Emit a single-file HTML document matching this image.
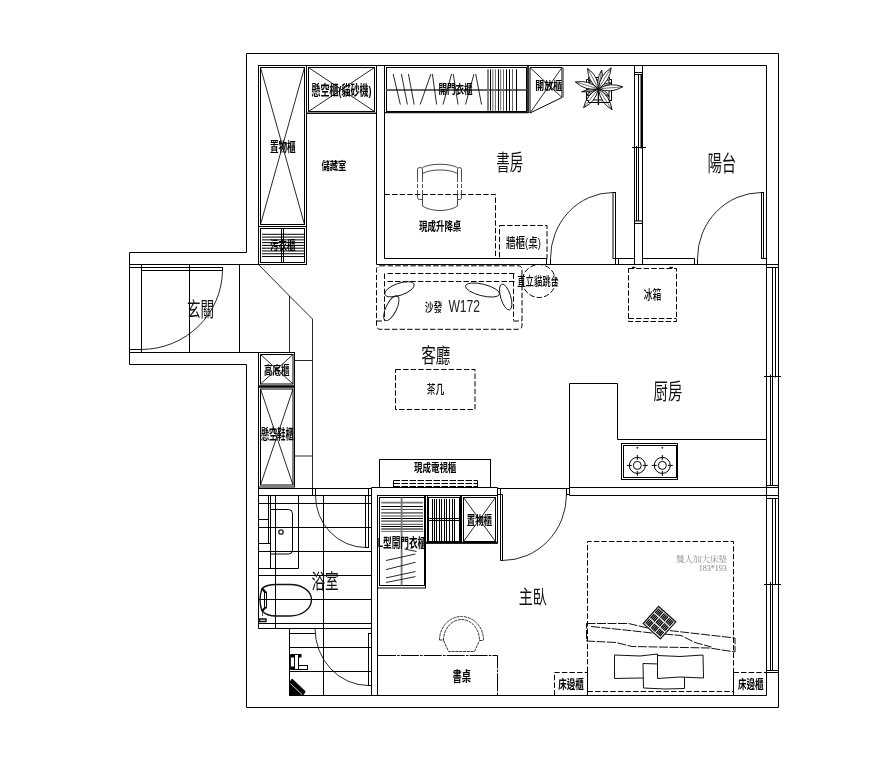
<!DOCTYPE html>
<html lang="zh-Hant"><head><meta charset="utf-8"><title>平面配置圖</title>
<style>
html,body{margin:0;padding:0;background:#fff;}
body{width:889px;height:762px;overflow:hidden;}
svg{display:block;will-change:transform;}
.k{stroke:#000;stroke-width:1;fill:none;}
.k15{stroke:#111;stroke-width:1.4;fill:none;}
.k2{stroke:#000;stroke-width:2;fill:none;}
.k3{stroke:#000;stroke-width:3;fill:none;}
.blk{stroke:#000;stroke-width:1;fill:#000;}
.t{stroke:#111;stroke-width:0.9;fill:none;}
.tw{stroke:#222;stroke-width:0.8;fill:#fff;}
.kw{stroke:#111;stroke-width:1;fill:#fff;}
.h{stroke:#000;stroke-width:1;fill:none;}
.hd{stroke:#444;stroke-width:1;fill:none;}
.wl{stroke:#fff;stroke-width:0.8;fill:none;}
.hg{stroke:#666;stroke-width:1;fill:none;}
.g2{stroke:#777;stroke-width:1.8;fill:none;}
.g2r{stroke:#666;stroke-width:2;fill:none;}
.g15{stroke:#888;stroke-width:1.5;fill:none;}
.d{stroke:#000;stroke-width:1;fill:none;stroke-dasharray:5.4 2.2;}
.d2{stroke:#000;stroke-width:1;fill:none;stroke-dasharray:6.5 1.5;}
.ch{stroke:#333;stroke-width:0.9;fill:none;}
.chd{stroke:#444;stroke-width:0.9;fill:none;stroke-dasharray:4 2;}
.d3{stroke:#222;stroke-width:0.8;fill:none;stroke-dasharray:4 2;}
.d3x{stroke:none;fill:none;}
.dd{stroke:#000;stroke-width:1;fill:none;stroke-dasharray:18 1.2 2.5 1.2;}
.dg{stroke:#333;stroke-width:1;fill:none;stroke-dasharray:3 0.8;}
.db{stroke:#111;stroke-width:1;fill:none;stroke-dasharray:9 1.5;}
.leaf{stroke:#000;stroke-width:0.9;fill:#fff;}
.vein{stroke:#111;stroke-width:0.6;fill:none;}
text{font-family:"Liberation Sans","Noto Sans CJK TC",sans-serif;fill:#000;}
.big{font-weight:400;fill:#111;}
.sm{font-weight:700;}
.md{font-weight:500;}
.lat{font-weight:400;fill:#222;}
.ser{font-family:"Liberation Serif","Noto Serif CJK TC",serif;fill:#888;font-weight:400;}
</style></head>
<body>
<svg width="889" height="762" viewBox="0 0 889 762" shape-rendering="geometricPrecision">
<rect x="0" y="0" width="889" height="762" fill="#fff"/>
<path class="k" d="M246.5,53.5 L778.5,53.5 L778.5,707.5 L246.5,707.5 L246.5,364.5 L129.5,364.5 L129.5,252.5 L246.5,252.5 Z"/>
<line class="k" x1="258.5" y1="65.5" x2="766.5" y2="65.5"/>
<line class="k" x1="766.5" y1="65.5" x2="766.5" y2="695.5"/>
<line class="k" x1="289.5" y1="695.5" x2="766.5" y2="695.5"/>
<line class="k" x1="258.5" y1="65.5" x2="258.5" y2="264.5"/>
<line class="k" x1="129.5" y1="264.5" x2="258.5" y2="264.5"/>
<line class="k" x1="129.5" y1="352.5" x2="258.5" y2="352.5"/>
<line class="k" x1="258.5" y1="352.5" x2="258.5" y2="628.5"/>
<line class="k" x1="141.5" y1="264.5" x2="141.5" y2="352.5"/>
<line class="k" x1="189.5" y1="264.5" x2="189.5" y2="352.5"/>
<line class="k" x1="239.5" y1="264.5" x2="239.5" y2="352.5"/>
<rect class="k" x="141.5" y="267.5" width="81.0" height="3.0"/>
<line class="k" x1="129.5" y1="267.5" x2="141.5" y2="267.5"/>
<line class="k" x1="129.5" y1="349.5" x2="141.5" y2="349.5"/>
<path class="t" d="M222.5,270.5 A81.5,80 0 0 1 141.5,349.5"/>
<rect class="k" x="258.5" y="65.5" width="48.0" height="161.0"/>
<rect class="k" x="260.5" y="67.5" width="44.0" height="157.0"/>
<line class="t" x1="260.5" y1="67.5" x2="304.5" y2="224.5"/>
<line class="t" x1="304.5" y1="67.5" x2="260.5" y2="224.5"/>
<rect class="k" x="258.5" y="226.5" width="48.0" height="38.0"/>
<rect class="k" x="260.5" y="228.5" width="44.0" height="34.0"/>
<line class="k" x1="281.5" y1="228.5" x2="281.5" y2="262.5"/>
<line class="k" x1="283.5" y1="228.5" x2="283.5" y2="262.5"/>
<line class="h" x1="262" y1="234.3" x2="304" y2="234.3"/>
<line class="h" x1="262" y1="237.08" x2="304" y2="237.08"/>
<line class="h" x1="262" y1="239.86" x2="304" y2="239.86"/>
<line class="h" x1="262" y1="242.64" x2="304" y2="242.64"/>
<line class="h" x1="262" y1="245.42" x2="304" y2="245.42"/>
<line class="h" x1="262" y1="248.2" x2="304" y2="248.2"/>
<line class="h" x1="262" y1="250.98" x2="304" y2="250.98"/>
<line class="h" x1="262" y1="253.76" x2="304" y2="253.76"/>
<line class="h" x1="262" y1="256.54" x2="304" y2="256.54"/>
<rect class="k" x="306.5" y="65.5" width="70.0" height="48.0"/>
<rect class="k" x="308.5" y="67.5" width="66.0" height="44.0"/>
<line class="t" x1="308.5" y1="67.5" x2="374.5" y2="111.5"/>
<line class="t" x1="374.5" y1="67.5" x2="308.5" y2="111.5"/>
<line class="k15" x1="306.5" y1="113.3" x2="376.5" y2="113.3"/>
<line class="k" x1="376.5" y1="65.5" x2="376.5" y2="264.5"/>
<line class="k" x1="384.5" y1="65.5" x2="384.5" y2="258.5"/>
<rect class="k" x="384.5" y="65.5" width="143.5" height="47.0"/>
<rect class="k" x="386.5" y="67.5" width="140.0" height="44.0"/>
<line class="k15" x1="384.5" y1="112.6" x2="528.5" y2="112.6"/>
<line class="k15" x1="528" y1="65.5" x2="528" y2="113"/>
<line class="g2r" x1="386.5" y1="90" x2="526.5" y2="90"/>
<line class="t" x1="393.2" y1="74" x2="400.3" y2="104.5"/>
<line class="t" x1="401.4" y1="74" x2="407.4" y2="104.5"/>
<line class="t" x1="408.4" y1="74" x2="414.2" y2="104.5"/>
<line class="t" x1="430.9" y1="74" x2="420.2" y2="104.5"/>
<line class="t" x1="432.4" y1="74" x2="436.6" y2="104.5"/>
<line class="t" x1="451.6" y1="74" x2="443" y2="104.5"/>
<line class="t" x1="453.3" y1="74" x2="458" y2="104.5"/>
<line class="t" x1="474" y1="74" x2="465.5" y2="104.5"/>
<line class="t" x1="475.7" y1="74" x2="481.5" y2="104.5"/>
<line class="g2" x1="488" y1="69.3" x2="488" y2="110.8"/>
<line class="k" x1="490.5" y1="69.3" x2="490.5" y2="110.8"/>
<line class="hg" x1="492.8" y1="69.3" x2="492.8" y2="110.8"/>
<line class="hg" x1="495.4" y1="69.3" x2="495.4" y2="110.8"/>
<line class="k" x1="498.5" y1="69.3" x2="498.5" y2="110.8"/>
<line class="hg" x1="500.7" y1="69.3" x2="500.7" y2="110.8"/>
<line class="hg" x1="503.5" y1="69.3" x2="503.5" y2="110.8"/>
<line class="k" x1="506.5" y1="69.3" x2="506.5" y2="110.8"/>
<line class="k" x1="509.5" y1="69.3" x2="509.5" y2="110.8"/>
<line class="hg" x1="512.5" y1="69.3" x2="512.5" y2="110.8"/>
<line class="k" x1="516.5" y1="69.3" x2="516.5" y2="110.8"/>
<path class="k" d="M530,67.5 L562,67.5 L562,97.5 L530,113 Z"/>
<line class="t" x1="530" y1="67.5" x2="562" y2="97.5"/>
<line class="t" x1="562" y1="67.5" x2="530" y2="113"/>
<line class="g2" x1="563" y1="67.5" x2="563" y2="97.5"/>
<path class="k" d="M588.5,77.5 H609.5 V79.5 H611.5 V100.5 H609.5 V102.5 H588.5 V100.5 H586.5 V79.5 H588.5 Z"/>
<rect class="k" x="589" y="80" width="20" height="20"/>
<path class="leaf" d="M598.4,88.8 Q604.0,80.1 601.7,70.1 Q596.1,78.7 598.4,88.8 Z"/>
<path class="vein" d="M598.4,88.8 L601.7,70.1"/>
<path class="leaf" d="M598.4,88.8 Q595.7,81.9 588.4,80.4 Q591.2,87.3 598.4,88.8 Z"/>
<path class="vein" d="M598.4,88.8 L588.4,80.4"/>
<path class="leaf" d="M598.4,88.8 Q601.7,95.4 609.0,96.3 Q605.7,89.7 598.4,88.8 Z"/>
<path class="vein" d="M598.4,88.8 L609.0,96.3"/>
<path class="leaf" d="M598.4,88.8 Q590.6,89.3 586.3,95.8 Q594.1,95.3 598.4,88.8 Z"/>
<path class="vein" d="M598.4,88.8 L586.3,95.8"/>
<path class="leaf" d="M598.4,88.8 Q589.5,87.3 581.7,91.8 Q590.6,93.2 598.4,88.8 Z"/>
<path class="vein" d="M598.4,88.8 L581.7,91.8"/>
<path class="leaf" d="M598.4,88.8 Q606.2,89.0 611.1,82.9 Q603.3,82.7 598.4,88.8 Z"/>
<path class="vein" d="M598.4,88.8 L611.1,82.9"/>
<path class="leaf" d="M598.4,88.8 Q588.6,79.6 575.4,82.0 Q585.2,91.1 598.4,88.8 Z"/>
<path class="vein" d="M598.4,88.8 L575.4,82.0"/>
<path class="leaf" d="M598.4,88.8 Q611.1,93.8 622.8,86.8 Q610.1,81.8 598.4,88.8 Z"/>
<path class="vein" d="M598.4,88.8 L622.8,86.8"/>
<path class="leaf" d="M598.4,88.8 Q609.9,81.4 611.2,67.8 Q599.7,75.2 598.4,88.8 Z"/>
<path class="vein" d="M598.4,88.8 L611.2,67.8"/>
<path class="leaf" d="M598.4,88.8 Q598.3,75.8 587.6,68.5 Q587.7,81.5 598.4,88.8 Z"/>
<path class="vein" d="M598.4,88.8 L587.6,68.5"/>
<path class="leaf" d="M598.4,88.8 Q586.3,94.5 583.6,107.7 Q595.7,101.9 598.4,88.8 Z"/>
<path class="vein" d="M598.4,88.8 L583.6,107.7"/>
<path class="leaf" d="M598.4,88.8 Q600.2,102.6 612.0,109.8 Q610.2,96.0 598.4,88.8 Z"/>
<path class="vein" d="M598.4,88.8 L612.0,109.8"/>
<line class="k15" x1="598.4" y1="88.8" x2="598.4" y2="105"/>
<path class="k" d="M586.5,92 V100.5 H588.5 V102.5 H594 M603,102.5 H609.5 V100.5 H611.5 V94"/>
<line class="k" x1="384.5" y1="258.5" x2="546.5" y2="258.5"/>
<line class="k" x1="376.5" y1="264.5" x2="778.5" y2="264.5"/>
<line class="k" x1="546.5" y1="258.5" x2="546.5" y2="264.5"/>
<line class="k" x1="550.5" y1="258.5" x2="550.5" y2="264.5"/>
<rect class="k" x="613" y="192.5" width="2.5" height="66.0"/>
<line class="k" x1="615.5" y1="258.5" x2="615.5" y2="264.5"/>
<line class="k" x1="618.5" y1="258.5" x2="618.5" y2="264.5"/>
<path class="t" d="M613,192.5 A62.5,66 0 0 0 550.5,258.5"/>
<line class="k" x1="615.5" y1="258.5" x2="634.5" y2="258.5"/>
<line class="k" x1="634.5" y1="65.5" x2="634.5" y2="264.5"/>
<line class="k" x1="642.5" y1="65.5" x2="642.5" y2="264.5"/>
<line class="k" x1="642.5" y1="258.5" x2="694.5" y2="258.5"/>
<line class="k" x1="694.5" y1="258.5" x2="694.5" y2="264.5"/>
<line class="k" x1="697.5" y1="258.5" x2="697.5" y2="264.5"/>
<rect class="k" x="761.5" y="192.5" width="2.0" height="66.0"/>
<line class="k" x1="763.5" y1="258.5" x2="766.5" y2="258.5"/>
<path class="t" d="M761.5,192.5 A64,66 0 0 0 697.5,258.5"/>
<line class="k" x1="634.5" y1="72.5" x2="642.5" y2="72.5"/>
<line class="k" x1="634.5" y1="74.5" x2="642.5" y2="74.5"/>
<line class="k" x1="634.5" y1="221" x2="642.5" y2="221"/>
<line class="k" x1="634.5" y1="223.5" x2="642.5" y2="223.5"/>
<line class="k" x1="632" y1="147.5" x2="646" y2="147.5"/>
<line class="k" x1="638.5" y1="74.5" x2="638.5" y2="148.5"/>
<line class="k2" x1="641.5" y1="74.5" x2="641.5" y2="148.5"/>
<line class="k" x1="636.5" y1="146" x2="636.5" y2="221"/>
<line class="k" x1="638.5" y1="146" x2="638.5" y2="221"/>
<path class="d" d="M384.5,194.5 H495.5 V258.5"/>
<rect class="d" x="499.5" y="225.5" width="47.5" height="33.0"/>
<path class="ch" d="M422.5,167.5 C431,163.2 449,163.2 457.5,167.5 M422.5,173.5 C431,168.8 449,168.8 457.5,173.5"/>
<path class="ch" d="M417.5,178 V169.5 Q417.5,167.5 419.5,167.5 H420.5 Q422.5,167.5 422.5,169.5 V178"/>
<path class="ch" d="M457.5,178 V169.5 Q457.5,167.5 459.5,167.5 H459.5 Q461.5,167.5 461.5,169.5 V178"/>
<path class="chd" d="M417.5,178 V194 M422.5,178 V194 M457.5,178 V194 M461.5,178 V194"/>
<path class="ch" d="M417.5,194 V197.5 Q417.5,199.5 419.5,199.5 H422.5 M461.5,194 V197.5 Q461.5,199.5 459.5,199.5 H457.5"/>
<path class="ch" d="M422.5,194 V206 C431,212 449,212 457.5,206 V194"/>
<rect class="d" x="376.5" y="265.8" width="145.5" height="63.5" rx="3.5" ry="3.5"/>
<path class="d" d="M387.5,273.5 H515.5 M387.5,281.5 H515.5"/>
<path class="d" d="M384.5,273.5 V320.5 M513.5,273.5 V320.5"/>
<line class="d" x1="376.5" y1="321" x2="384.5" y2="321"/>
<line class="d" x1="513.5" y1="321" x2="522" y2="321"/>
<ellipse class="t" cx="399.5" cy="289.3" rx="15.5" ry="6" transform="rotate(-19 399.5 289.3)"/>
<ellipse class="t" cx="391.3" cy="308.2" rx="13.6" ry="5.3" transform="rotate(-64 391.3 308.2)"/>
<ellipse class="t" cx="482.5" cy="290" rx="17.5" ry="5.8" transform="rotate(14 482.5 290)"/>
<ellipse class="t" cx="505.7" cy="297" rx="13.5" ry="5" transform="rotate(73 505.7 297)"/>
<circle class="d" cx="539" cy="281" r="16.5"/>
<rect class="d" x="395.5" y="369.5" width="79.5" height="40.0"/>
<rect class="d" x="628.5" y="268.5" width="48.0" height="53.0"/>
<line class="d" x1="628.5" y1="318.5" x2="676.5" y2="318.5"/>
<line class="k15" x1="632" y1="267.5" x2="635.5" y2="267.5"/>
<line class="k15" x1="669.5" y1="267.5" x2="673" y2="267.5"/>
<path class="t" d="M258.5,264.5 L289.5,296 L312.5,319"/>
<line class="t" x1="312.5" y1="319" x2="312.5" y2="488.5"/>
<line class="t" x1="289.5" y1="296" x2="289.5" y2="352.5"/>
<line class="t" x1="294.5" y1="360.5" x2="312.5" y2="360.5"/>
<line class="t" x1="294.5" y1="456" x2="312.5" y2="456"/>
<rect class="k" x="258.5" y="352.5" width="36.0" height="33.5"/>
<rect class="k" x="260.5" y="354.5" width="32.5" height="29.5"/>
<line class="t" x1="260.5" y1="354.5" x2="293" y2="384"/>
<line class="t" x1="293" y1="354.5" x2="260.5" y2="384"/>
<rect class="k" x="258.5" y="387" width="36.0" height="100"/>
<rect class="k" x="260.5" y="389" width="32.5" height="96"/>
<line class="t" x1="260.5" y1="389" x2="293" y2="485"/>
<line class="t" x1="293" y1="389" x2="260.5" y2="485"/>
<line class="k2" x1="258.5" y1="386.5" x2="294.5" y2="386.5"/>
<line class="k" x1="258.5" y1="488.5" x2="371.5" y2="488.5"/>
<line class="k" x1="258.5" y1="495.5" x2="371.5" y2="495.5"/>
<rect class="k" x="312.5" y="488.5" width="3.0" height="7.0"/>
<rect class="k" x="368.5" y="488.5" width="3.0" height="7.0"/>
<line class="k" x1="371.5" y1="487.5" x2="371.5" y2="695.5"/>
<line class="k" x1="377.5" y1="495.5" x2="377.5" y2="695.5"/>
<line class="k" x1="258.5" y1="503.5" x2="371.5" y2="503.5"/>
<line class="k" x1="258.5" y1="527.5" x2="371.5" y2="527.5"/>
<line class="k" x1="258.5" y1="551.5" x2="371.5" y2="551.5"/>
<line class="k" x1="258.5" y1="575.5" x2="371.5" y2="575.5"/>
<line class="k" x1="258.5" y1="599.5" x2="371.5" y2="599.5"/>
<line class="k" x1="258.5" y1="623.5" x2="371.5" y2="623.5"/>
<line class="k" x1="289.5" y1="647.5" x2="371.5" y2="647.5"/>
<line class="k" x1="289.5" y1="671.5" x2="371.5" y2="671.5"/>
<line class="k" x1="275.5" y1="495.5" x2="275.5" y2="628.5"/>
<line class="k" x1="323.5" y1="495.5" x2="323.5" y2="695.5"/>
<line class="k" x1="258.5" y1="628.5" x2="371.5" y2="628.5"/>
<line class="k" x1="289.5" y1="628.5" x2="289.5" y2="695.5"/>
<rect x="259" y="496" width="39" height="72" fill="#fff" stroke="none"/>
<line class="k" x1="298.5" y1="495.5" x2="298.5" y2="568.5"/>
<line class="k" x1="258.5" y1="568.5" x2="298.5" y2="568.5"/>
<line class="k" x1="268.5" y1="495.5" x2="268.5" y2="543.5"/>
<line class="k" x1="270.5" y1="495.5" x2="270.5" y2="568.5"/>
<line class="k" x1="258.5" y1="519.5" x2="268.5" y2="519.5"/>
<line class="k" x1="258.5" y1="543.5" x2="270.5" y2="543.5"/>
<line class="k" x1="258.5" y1="503.5" x2="298.5" y2="503.5"/>
<line class="k" x1="258.5" y1="527.5" x2="298.5" y2="527.5"/>
<line class="k" x1="258.5" y1="551.5" x2="298.5" y2="551.5"/>
<line class="k" x1="275.5" y1="495.5" x2="275.5" y2="568.5"/>
<path class="k" d="M270.5,509.5 H288.5 Q292.5,509.5 292.5,513.5 V550 Q292.5,554 288.5,554 H270.5"/>
<circle cx="281" cy="532" r="2.2" fill="none" stroke="#222" stroke-width="1.3"/>
<rect class="k" x="365.5" y="495.5" width="3.0" height="52.0"/>
<path class="t" d="M315.5,495.5 A50.5,52 0 0 0 365.5,547.5"/>
<path class="k15" d="M262,588.5 C266,585 272,584.5 276,584.5 L290,584.5 C302,584.5 311.5,591 311.5,599.5 C311.5,609 302,616 290,616 L276,616 C272,616 266,615 262,611"/>
<path class="k15" d="M262,588.5 Q258,600 262,611 M262.5,588.5 Q265,590 265,592"/>
<path class="k2" d="M262,588.5 L265,592 M262,611 L265,608"/>
<rect class="k" x="264.5" y="592" width="2.0" height="16"/>
<path class="k15" d="M259.5,619 h6.5 v2.5 h-6.5 z"/>
<path class="d3" d="M262.5,612 V619"/>
<line class="k" x1="289.5" y1="633.5" x2="315.5" y2="633.5"/>
<rect class="k" x="368.5" y="633.5" width="3.0" height="52.0"/>
<path class="t" d="M315,628.5 A53.5,57 0 0 0 368.5,685.5"/>
<rect class="k" x="294.5" y="654.5" width="4.0" height="15.0"/>
<rect class="k" x="298.5" y="665.5" width="9.0" height="4.0"/>
<rect class="t" x="290.5" y="655" width="4.0" height="14"/>
<rect class="blk" x="291" y="654.5" width="3.5" height="2.5"/>
<rect class="blk" x="291" y="667" width="3.5" height="2.5"/>
<rect class="blk" x="298.5" y="654.5" width="2.5" height="2.5"/>
<path class="blk" d="M289.5,682.5 L292.2,679 L305.2,691.6 L302.6,695.5 H289.5 Z"/>
<path class="wl" d="M290.5,683.5 L302,694.5"/>
<rect class="k" x="379.5" y="459.5" width="111.0" height="28.0"/>
<path class="d2" d="M393.5,480.5 H477.5 M393.5,483.5 H477.5 M393.5,486.5 H477.5"/>
<line class="k" x1="393.5" y1="480.5" x2="393.5" y2="487"/>
<line class="k" x1="477.5" y1="480.5" x2="477.5" y2="487"/>
<line class="k" x1="371.5" y1="487.5" x2="497.5" y2="487.5"/>
<line class="k" x1="377.5" y1="495.5" x2="497.5" y2="495.5"/>
<line class="k" x1="497.5" y1="487.5" x2="497.5" y2="495.5"/>
<line class="k" x1="497.5" y1="488.5" x2="569.5" y2="488.5"/>
<line class="k" x1="497.5" y1="494.5" x2="502.5" y2="494.5"/>
<line class="k" x1="500.5" y1="488.5" x2="500.5" y2="560.5"/>
<line class="k" x1="502.5" y1="494.5" x2="502.5" y2="560.5"/>
<line class="k" x1="500.5" y1="560.5" x2="502.5" y2="560.5"/>
<path class="t" d="M502.5,560.5 A64,66 0 0 0 566.5,494.5"/>
<rect class="k" x="566.5" y="488.5" width="3.0" height="6.0"/>
<rect class="k" x="377.5" y="495.5" width="48.0" height="92.5"/>
<rect class="k" x="379.5" y="497.5" width="45.0" height="88.0"/>
<line class="k2" x1="425" y1="495.5" x2="425" y2="543"/>
<line class="g2" x1="381.2" y1="502.6" x2="423" y2="502.6"/>
<line class="k" x1="381.2" y1="506.5" x2="423" y2="506.5"/>
<line class="hd" x1="381.2" y1="509.4" x2="423" y2="509.4"/>
<line class="g2" x1="381.2" y1="512.8" x2="423" y2="512.8"/>
<line class="hd" x1="381.2" y1="516" x2="423" y2="516"/>
<line class="k" x1="381.2" y1="518.5" x2="423" y2="518.5"/>
<line class="g2" x1="381.2" y1="521.1" x2="423" y2="521.1"/>
<line class="hd" x1="381.2" y1="524.3" x2="423" y2="524.3"/>
<line class="k" x1="381.2" y1="526.5" x2="423" y2="526.5"/>
<line class="g2" x1="381.2" y1="529" x2="423" y2="529"/>
<line class="hg" x1="381.2" y1="531.4" x2="423" y2="531.4"/>
<line class="g2" x1="401.6" y1="497.5" x2="401.6" y2="585.5"/>
<line class="t" x1="386" y1="560.5" x2="415.5" y2="554"/>
<line class="t" x1="386" y1="569.6" x2="415.5" y2="562.3"/>
<line class="t" x1="386" y1="577.9" x2="415.5" y2="571.5"/>
<line class="t" x1="386" y1="582.5" x2="415.5" y2="576.6"/>
<line class="t" x1="404.5" y1="549" x2="416.5" y2="551.5"/>
<rect class="k" x="427.5" y="495.5" width="33.0" height="47.5"/>
<rect class="k" x="428.5" y="497.5" width="31.0" height="44.0"/>
<line class="h" x1="432.5" y1="499" x2="432.5" y2="541"/>
<line class="h" x1="434.5" y1="499" x2="434.5" y2="541"/>
<line class="h" x1="436.5" y1="499" x2="436.5" y2="541"/>
<line class="h" x1="439.5" y1="499" x2="439.5" y2="541"/>
<line class="h" x1="441.5" y1="499" x2="441.5" y2="541"/>
<line class="h" x1="444.5" y1="499" x2="444.5" y2="541"/>
<line class="h" x1="446.5" y1="499" x2="446.5" y2="541"/>
<line class="h" x1="449.5" y1="499" x2="449.5" y2="541"/>
<line class="h" x1="452.5" y1="499" x2="452.5" y2="541"/>
<line class="h" x1="454.5" y1="499" x2="454.5" y2="541"/>
<line class="k" x1="428.5" y1="518.5" x2="459.5" y2="518.5"/>
<line class="k" x1="428.5" y1="520.5" x2="459.5" y2="520.5"/>
<rect class="k" x="461.5" y="495.5" width="36.0" height="47.5"/>
<rect class="k" x="463.5" y="497.5" width="32.0" height="44.0"/>
<line class="t" x1="463.5" y1="497.5" x2="495.5" y2="541.5"/>
<line class="t" x1="495.5" y1="497.5" x2="463.5" y2="541.5"/>
<line class="k2" x1="426" y1="542.8" x2="497.5" y2="542.8"/>
<path class="k" d="M617.5,383.5 L569.5,383.5 L569.5,495.5"/>
<path class="k" d="M617.5,383.5 L617.5,439.5 L766.5,439.5"/>
<line class="k" x1="569.5" y1="487.5" x2="778.5" y2="487.5"/>
<line class="k" x1="569.5" y1="495.5" x2="778.5" y2="495.5"/>
<rect class="k" x="621.5" y="443.5" width="56.0" height="36.0"/>
<rect class="k" x="623.5" y="445.5" width="53.0" height="32.0"/>
<circle class="k" cx="637.3" cy="465.4" r="4"/>
<circle class="k" cx="637.3" cy="465.4" r="8"/>
<line class="k" x1="626.8" y1="465.4" x2="631.8" y2="465.4"/>
<line class="k" x1="642.8" y1="465.4" x2="647.8" y2="465.4"/>
<line class="k" x1="637.3" y1="454.9" x2="637.3" y2="459.9"/>
<line class="k" x1="637.3" y1="470.9" x2="637.3" y2="475.9"/>
<circle cx="637.3" cy="447.7" r="1" fill="#444"/>
<circle class="k" cx="662.3" cy="465.4" r="4"/>
<circle class="k" cx="662.3" cy="465.4" r="8"/>
<line class="k" x1="651.8" y1="465.4" x2="656.8" y2="465.4"/>
<line class="k" x1="667.8" y1="465.4" x2="672.8" y2="465.4"/>
<line class="k" x1="662.3" y1="454.9" x2="662.3" y2="459.9"/>
<line class="k" x1="662.3" y1="470.9" x2="662.3" y2="475.9"/>
<circle cx="662.3" cy="447.7" r="1" fill="#444"/>
<line class="k" x1="766.5" y1="267.5" x2="778.5" y2="267.5"/>
<line class="k" x1="766.5" y1="485.5" x2="778.5" y2="485.5"/>
<line class="k" x1="772.5" y1="267.5" x2="772.5" y2="377.5"/>
<line class="k" x1="775.5" y1="267.5" x2="775.5" y2="377.5"/>
<line class="k" x1="770.5" y1="374.5" x2="770.5" y2="485.5"/>
<line class="k" x1="772.5" y1="374.5" x2="772.5" y2="485.5"/>
<line class="k" x1="764" y1="376.5" x2="781" y2="376.5"/>
<line class="k" x1="766.5" y1="498.5" x2="778.5" y2="498.5"/>
<line class="k" x1="766.5" y1="670.5" x2="778.5" y2="670.5"/>
<line class="k" x1="766.5" y1="672.5" x2="778.5" y2="672.5"/>
<line class="k" x1="772.5" y1="498.5" x2="772.5" y2="585"/>
<line class="k" x1="775.5" y1="498.5" x2="775.5" y2="585"/>
<line class="k" x1="770.5" y1="582" x2="770.5" y2="670.5"/>
<line class="k" x1="772.5" y1="582" x2="772.5" y2="670.5"/>
<line class="k" x1="764" y1="584.5" x2="781" y2="584.5"/>
<path class="dd" d="M378,655.5 H497.5 V695.5"/>
<path class="dg" d="M439.5,640 A22,23.5 0 0 1 483.5,640 M443.5,640.5 A18,21 0 0 1 479.5,640.5 M439.5,640 H443.5 M479.5,640.5 H483.5 M443.5,640.5 L448.5,651.5 H474.5 L479.5,640.5"/>
<path class="d" d="M587.5,672 V541.5 H733.5 V672"/>
<line class="d" x1="587.5" y1="691.5" x2="733.5" y2="691.5"/>
<line class="k" x1="587.5" y1="672" x2="587.5" y2="695.5"/>
<line class="k" x1="733.5" y1="672" x2="733.5" y2="695.5"/>
<path class="d" d="M554.5,695.5 V672.5 H587.5"/>
<path class="d" d="M733.5,672.5 H766.5"/>
<path class="db" d="M586.5,623.5 L628.5,623.5 L652,629 L673.5,631 L735,638 L735,652 L709.5,648 L657.5,647 L632,646.5 L616,642.5 L586.5,641 Z"/>
<path class="db" d="M591,626.5 L625,630 L652,633 L681,635.5 L695,642.5 L711.5,647"/>
<g transform="translate(659.5,622.7) rotate(42)"><rect x="-11.5" y="-11.5" width="23" height="23" fill="#fff" stroke="#111" stroke-width="1.2"/><line x1="-9.7" y1="-10.3" x2="-9.7" y2="-4.3" stroke="#000" stroke-width="1.25"/><line x1="-8.1" y1="-10.3" x2="-8.1" y2="-4.3" stroke="#000" stroke-width="1.25"/><line x1="-6.5" y1="-10.3" x2="-6.5" y2="-4.3" stroke="#000" stroke-width="1.25"/><line x1="-4.9" y1="-10.3" x2="-4.9" y2="-4.3" stroke="#000" stroke-width="1.25"/><line x1="-2.6" y1="-10.3" x2="-2.6" y2="-4.3" stroke="#000" stroke-width="1.25"/><line x1="-1.0" y1="-10.3" x2="-1.0" y2="-4.3" stroke="#000" stroke-width="1.25"/><line x1="0.6" y1="-10.3" x2="0.6" y2="-4.3" stroke="#000" stroke-width="1.25"/><line x1="2.2" y1="-10.3" x2="2.2" y2="-4.3" stroke="#000" stroke-width="1.25"/><line x1="4.5" y1="-10.3" x2="4.5" y2="-4.3" stroke="#000" stroke-width="1.25"/><line x1="6.1" y1="-10.3" x2="6.1" y2="-4.3" stroke="#000" stroke-width="1.25"/><line x1="7.7" y1="-10.3" x2="7.7" y2="-4.3" stroke="#000" stroke-width="1.25"/><line x1="9.3" y1="-10.3" x2="9.3" y2="-4.3" stroke="#000" stroke-width="1.25"/><line x1="-9.7" y1="-3.2" x2="-9.7" y2="2.8" stroke="#000" stroke-width="1.25"/><line x1="-8.1" y1="-3.2" x2="-8.1" y2="2.8" stroke="#000" stroke-width="1.25"/><line x1="-6.5" y1="-3.2" x2="-6.5" y2="2.8" stroke="#000" stroke-width="1.25"/><line x1="-4.9" y1="-3.2" x2="-4.9" y2="2.8" stroke="#000" stroke-width="1.25"/><line x1="-2.6" y1="-3.2" x2="-2.6" y2="2.8" stroke="#000" stroke-width="1.25"/><line x1="-1.0" y1="-3.2" x2="-1.0" y2="2.8" stroke="#000" stroke-width="1.25"/><line x1="0.6" y1="-3.2" x2="0.6" y2="2.8" stroke="#000" stroke-width="1.25"/><line x1="2.2" y1="-3.2" x2="2.2" y2="2.8" stroke="#000" stroke-width="1.25"/><line x1="4.5" y1="-3.2" x2="4.5" y2="2.8" stroke="#000" stroke-width="1.25"/><line x1="6.1" y1="-3.2" x2="6.1" y2="2.8" stroke="#000" stroke-width="1.25"/><line x1="7.7" y1="-3.2" x2="7.7" y2="2.8" stroke="#000" stroke-width="1.25"/><line x1="9.3" y1="-3.2" x2="9.3" y2="2.8" stroke="#000" stroke-width="1.25"/><line x1="-9.7" y1="3.9" x2="-9.7" y2="9.9" stroke="#000" stroke-width="1.25"/><line x1="-8.1" y1="3.9" x2="-8.1" y2="9.9" stroke="#000" stroke-width="1.25"/><line x1="-6.5" y1="3.9" x2="-6.5" y2="9.9" stroke="#000" stroke-width="1.25"/><line x1="-4.9" y1="3.9" x2="-4.9" y2="9.9" stroke="#000" stroke-width="1.25"/><line x1="-2.6" y1="3.9" x2="-2.6" y2="9.9" stroke="#000" stroke-width="1.25"/><line x1="-1.0" y1="3.9" x2="-1.0" y2="9.9" stroke="#000" stroke-width="1.25"/><line x1="0.6" y1="3.9" x2="0.6" y2="9.9" stroke="#000" stroke-width="1.25"/><line x1="2.2" y1="3.9" x2="2.2" y2="9.9" stroke="#000" stroke-width="1.25"/><line x1="4.5" y1="3.9" x2="4.5" y2="9.9" stroke="#000" stroke-width="1.25"/><line x1="6.1" y1="3.9" x2="6.1" y2="9.9" stroke="#000" stroke-width="1.25"/><line x1="7.7" y1="3.9" x2="7.7" y2="9.9" stroke="#000" stroke-width="1.25"/><line x1="9.3" y1="3.9" x2="9.3" y2="9.9" stroke="#000" stroke-width="1.25"/></g>
<path class="kw" d="M614.5,655 L640,656 L657.5,654 L657.5,679 L640,678 L614.5,678.5 Z"/>
<path class="kw" d="M643,663.5 L660,664 L684.5,663.5 L684.5,688.5 L665,689 L643.5,688 Z"/>
<path class="kw" d="M657.5,655.5 L680,656.5 L703,655 L703.5,678 L680,677 L657.5,678.5 Z"/>
<text class="big" x="496.2" y="170.02" font-size="21.21" textLength="26.9" lengthAdjust="spacingAndGlyphs">書房</text>
<text class="big" x="707.45" y="170.5" font-size="21.43" textLength="28.85" lengthAdjust="spacingAndGlyphs">陽台</text>
<text class="big" x="187.1" y="316.75" font-size="20.77" textLength="27.0" lengthAdjust="spacingAndGlyphs">玄關</text>
<text class="big" x="421.2" y="363.08" font-size="20.33" textLength="29.1" lengthAdjust="spacingAndGlyphs">客廳</text>
<text class="big" x="653.6" y="398.51" font-size="21.32" textLength="28.6" lengthAdjust="spacingAndGlyphs">厨房</text>
<text class="big" x="311.4" y="589.05" font-size="20.77" textLength="27.3" lengthAdjust="spacingAndGlyphs">浴室</text>
<text class="big" x="518.7" y="604.12" font-size="19.78" textLength="28.1" lengthAdjust="spacingAndGlyphs">主臥</text>
<text class="sm" x="311.6" y="95.36" font-size="13.41" textLength="60.0" lengthAdjust="spacingAndGlyphs">懸空櫃(貓砂機)</text>
<text class="sm" x="269.9" y="151.02" font-size="12.53" textLength="25.8" lengthAdjust="spacingAndGlyphs">置物櫃</text>
<text class="sm" x="321.4" y="169.89" font-size="11.54" textLength="24.9" lengthAdjust="spacingAndGlyphs">儲藏室</text>
<text class="sm" x="270.1" y="250.33" font-size="12.42" textLength="25.3" lengthAdjust="spacingAndGlyphs">污衣櫃</text>
<text class="sm" x="438.5" y="94.33" font-size="12.42" textLength="34.1" lengthAdjust="spacingAndGlyphs">開門衣櫃</text>
<text class="sm" x="535.3" y="90.48" font-size="11.76" textLength="26.7" lengthAdjust="spacingAndGlyphs">開放櫃</text>
<text class="sm" x="419.1" y="231.43" font-size="12.42" textLength="42.2" lengthAdjust="spacingAndGlyphs">現成升降桌</text>
<text class="md" x="506.1" y="247.4" font-size="12.86" textLength="34.8" lengthAdjust="spacingAndGlyphs">牆櫃(桌)</text>
<text class="md" x="517.2" y="286.13" font-size="12.42" textLength="41.8" lengthAdjust="spacingAndGlyphs">直立貓跳台</text>
<text class="md" x="424.8" y="311.53" font-size="12.42" textLength="17.5" lengthAdjust="spacingAndGlyphs">沙發</text>
<text class="lat" x="448.4" y="312.2" font-size="16.53" textLength="31.7" lengthAdjust="spacingAndGlyphs">W172</text>
<text class="md" x="426.7" y="394.13" font-size="12.36" textLength="17.6" lengthAdjust="spacingAndGlyphs">茶几</text>
<text class="md" x="643.7" y="298.62" font-size="12.64" textLength="17.6" lengthAdjust="spacingAndGlyphs">冰箱</text>
<text class="sm" x="264.1" y="374.86" font-size="11.98" textLength="25.3" lengthAdjust="spacingAndGlyphs">高底櫃</text>
<text class="sm" x="260.9" y="438.78" font-size="13.08" textLength="32.7" lengthAdjust="spacingAndGlyphs">懸空鞋櫃</text>
<text class="sm" x="414.0" y="471.98" font-size="11.76" textLength="42.3" lengthAdjust="spacingAndGlyphs">現成電視櫃</text>
<text class="sm" x="377.7" y="546.72" font-size="12.53" textLength="48.6" lengthAdjust="spacingAndGlyphs">L型開門衣櫃</text>
<text class="sm" x="466.7" y="524.65" font-size="12.09" textLength="25.4" lengthAdjust="spacingAndGlyphs">置物櫃</text>
<text class="sm" x="452.45" y="680.58" font-size="13.19" textLength="18.6" lengthAdjust="spacingAndGlyphs">書桌</text>
<text class="sm" x="558.2" y="688.63" font-size="12.36" textLength="25.6" lengthAdjust="spacingAndGlyphs">床邊櫃</text>
<text class="sm" x="737.95" y="688.63" font-size="12.36" textLength="25.6" lengthAdjust="spacingAndGlyphs">床邊櫃</text>
<text class="ser" x="676.2" y="561.62" font-size="8.24" textLength="50.6" lengthAdjust="spacingAndGlyphs">雙人加大床墊</text>
<text class="ser" x="698.7" y="571" font-size="9.03" textLength="28.1" lengthAdjust="spacingAndGlyphs">183*193</text>
</svg>
</body></html>
